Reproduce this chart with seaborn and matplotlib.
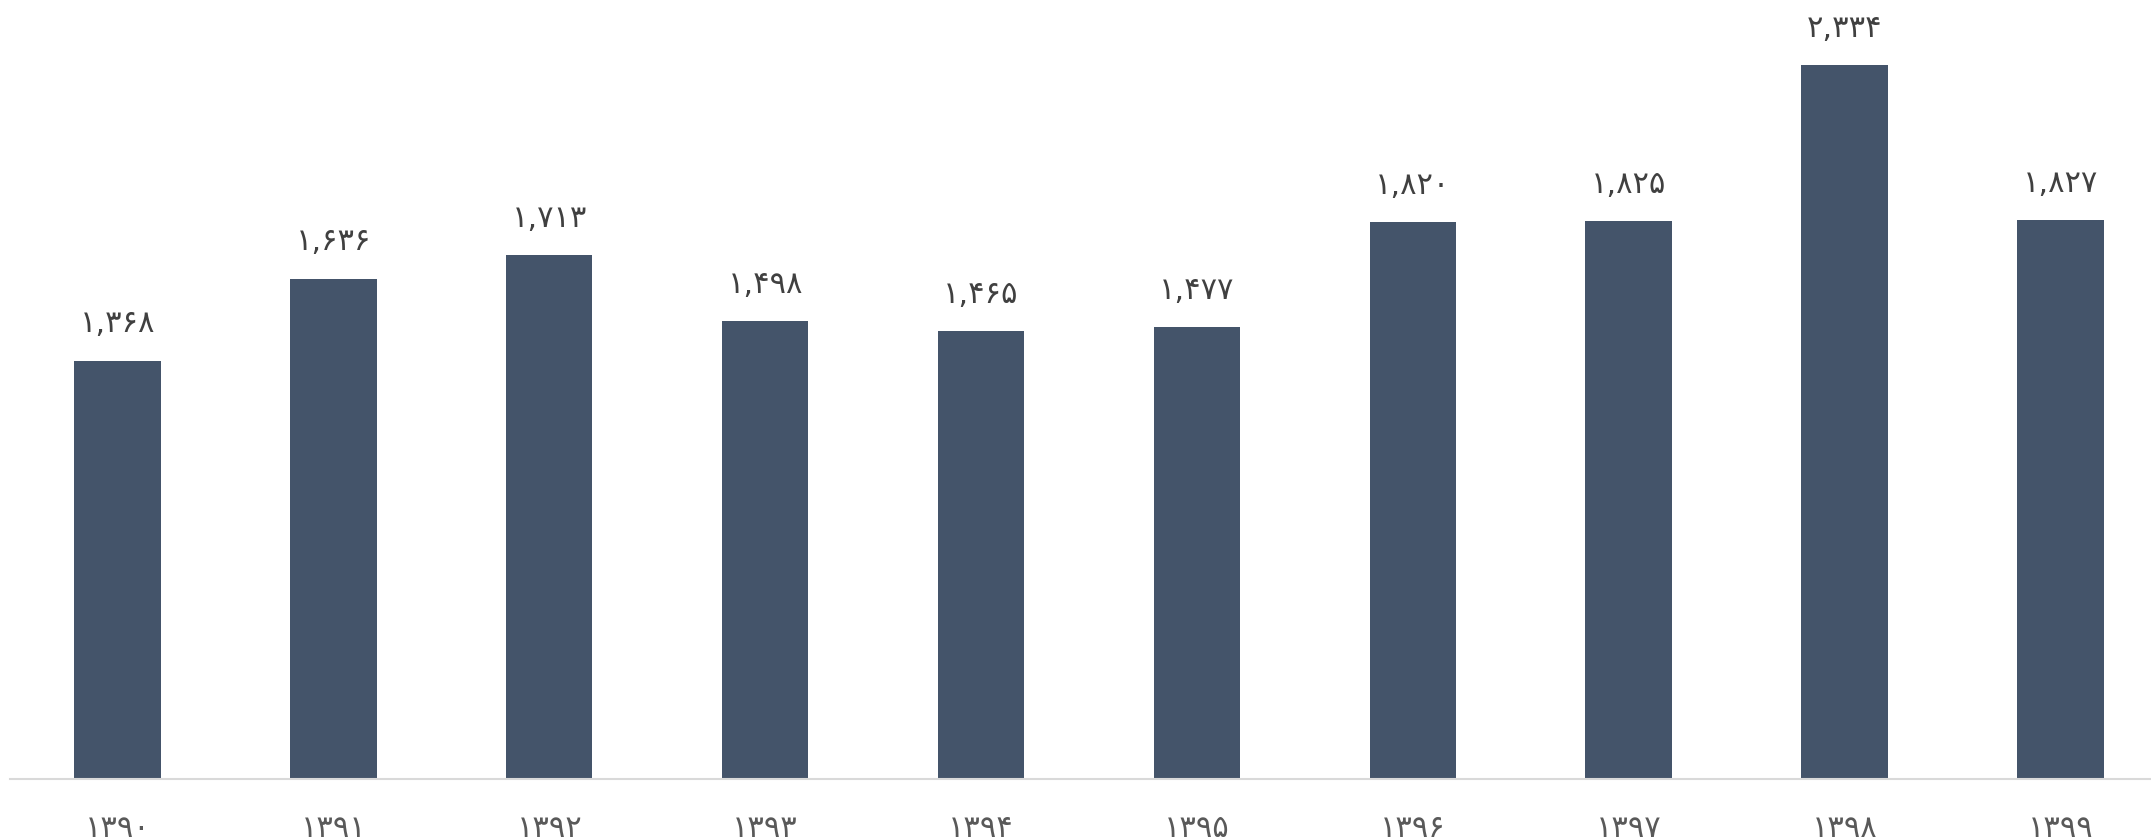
import matplotlib
matplotlib.use('Agg')
import matplotlib.pyplot as plt
import seaborn as sns
import pandas as pd

# Data
years = ['1390', '1391', '1392', '1393', '1394', '1395', '1396', '1397', '1398', '1399']
values = [1368, 1636, 1713, 1498, 1465, 1477, 1820, 1825, 2334, 1827]

fa_digits = str.maketrans('0123456789', '۰۱۲۳۴۵۶۷۸۹')

def to_fa(s):
    return s.translate(fa_digits)

sns.set_theme(style="white")
plt.rcParams['font.family'] = ['DejaVu Sans']

df = pd.DataFrame({'year': [to_fa(y) for y in years], 'value': values})

fig = plt.figure(figsize=(21.51, 8.39), dpi=100)
ax = fig.add_axes([0.0045, 0.0715, 0.9955, 0.9285])

sns.barplot(data=df, x='year', y='value', color='#44546A', saturation=1,
            width=0.4, ax=ax, edgecolor='none')

ax.bar_label(ax.containers[0], labels=[to_fa(f'{v:,}') for v in values],
             padding=16, fontsize=22, color='#404040')

ax.set_xlim(-0.5, 9.42)
ax.set_ylim(0, 2547)
ax.set_xlabel('')
ax.set_ylabel('')
ax.set_yticks([])
ax.tick_params(axis='x', length=0, pad=25, labelsize=22, labelcolor='#595959')

for side in ['left', 'right', 'top']:
    ax.spines[side].set_visible(False)
ax.spines['bottom'].set_color('#D9D9D9')
ax.spines['bottom'].set_linewidth(1.5)

fig.savefig('out.png', dpi=100)
